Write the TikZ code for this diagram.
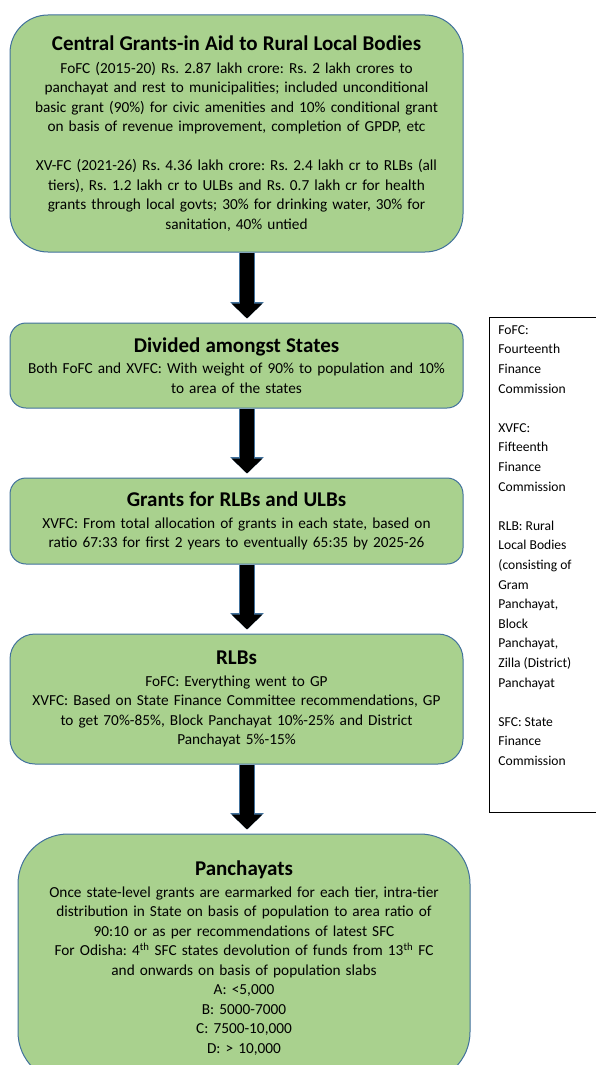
\documentclass[tikz,border=0pt]{standalone}
\usepackage{fontspec}
\setmainfont{Carlito}
\usetikzlibrary{arrows.meta, positioning}
\definecolor{boxgreen}{HTML}{A9D18E}
\definecolor{boxblue}{HTML}{41719C}
\frenchspacing

\newcommand\bodyfont{\fontsize{15.3}{19.5}\selectfont}
\newcommand\headfont{\fontsize{21}{24}\selectfont\bfseries}
\newcommand\notefont{\fontsize{13.6}{19.6}\selectfont}

\tikzset{
  stage/.style={draw=boxblue, fill=boxgreen, line width=1pt, text width=445pt,
    minimum width=453pt, align=center, inner sep=4pt, font=\bodyfont},
  flow/.style={line width=14pt, -{Triangle[length=15pt,width=30pt]}, shorten >=4pt,
    preaction={draw=boxblue, line width=15.5pt, -{Triangle[length=16.5pt,width=33pt]}}},
}

\begin{document}
\begin{tikzpicture}[x=1pt, y=-1pt]
    \useasboundingbox (0,0) rectangle (595,1065);

    \node (cgia) [stage, minimum height=237pt, rounded corners=38pt] at (236.5,133.5)
      {{\headfont Central Grants-in Aid to Rural Local Bodies}\\[3pt]
       FoFC (2015-20) Rs. 2.87 lakh crore: Rs. 2 lakh crores to\\
       panchayat and rest to municipalities; included unconditional\\
       basic grant (90\%) for civic amenities and 10\% conditional grant\\
       on basis of revenue improvement, completion of GPDP, etc\\[19.5pt]
       XV-FC (2021-26) Rs. 4.36 lakh crore: Rs. 2.4 lakh cr to RLBs (all\\
       tiers), Rs. 1.2 lakh cr to ULBs and Rs. 0.7 lakh cr for health\\
       grants through local govts; 30\% for drinking water, 30\% for\\
       sanitation, 40\% untied};
    \node (states) [stage, minimum height=85pt, rounded corners=16pt, below=70pt of cgia]
      {{\headfont Divided amongst States}\\[2pt]
       Both FoFC and XVFC: With weight of 90\% to population and 10\%\\
       to area of the states};
    \node (grants) [stage, minimum height=86pt, rounded corners=16pt, below=69pt of states]
      {{\headfont Grants for RLBs and ULBs}\\[2pt]
       XVFC: From total allocation of grants in each state, based on\\
       ratio 67:33 for first 2 years to eventually 65:35 by 2025-26};
    \node (rlb) [stage, minimum height=130pt, rounded corners=25pt, below=69pt of grants]
      {{\headfont RLBs}\\[2pt]
       FoFC: Everything went to GP\\
       XVFC: Based on State Finance Committee recommendations, GP\\
       to get 70\%-85\%, Block Panchayat 10\%-25\% and District\\
       Panchayat 5\%-15\%};
    \node (panch) [stage, minimum height=248pt, rounded corners=50pt, text width=444pt,
      minimum width=452pt, below=69pt of rlb, xshift=7.5pt]
      {{\headfont Panchayats}\\[2pt]
       Once state-level grants are earmarked for each tier, intra-tier\\
       distribution in State on basis of population to area ratio of\\
       90:10 or as per recommendations of latest SFC\\
       For Odisha: 4\textsuperscript{th} SFC states devolution of funds from 13\textsuperscript{th} FC\\
       and onwards on basis of population slabs\\
       A: <5,000\\
       B: 5000-7000\\
       C: 7500-10,000\\
       D: > 10,000};

    % legend
    \node (legend) [draw, line width=0.8pt, anchor=north west, inner xsep=9pt, inner ysep=8pt,
      font=\notefont] at (489,317)
      {\parbox[c][479pt][t]{100pt}{\raggedright
       FoFC:\\ Fourteenth\\ Finance\\ Commission\\[19.6pt]
       XVFC:\\ Fifteenth\\ Finance\\ Commission\\[19.6pt]
       RLB: Rural\\ Local Bodies\\ (consisting of\\ Gram\\ Panchayat,\\ Block\\ Panchayat,\\
       Zilla (District)\\ Panchayat\\[19.6pt]
       SFC: State\\ Finance\\ Commission}};

    \draw[flow] ([xshift=10.5pt]cgia.south) -- ([xshift=10.5pt]states.north);
    \draw[flow] ([xshift=10.5pt]states.south) -- ([xshift=10.5pt]grants.north);
    \draw[flow] ([xshift=10.5pt]grants.south) -- ([xshift=10.5pt]rlb.north);
    \draw[flow] ([xshift=10.5pt]rlb.south) -- ([xshift=3pt]panch.north);
\end{tikzpicture}
\end{document}
